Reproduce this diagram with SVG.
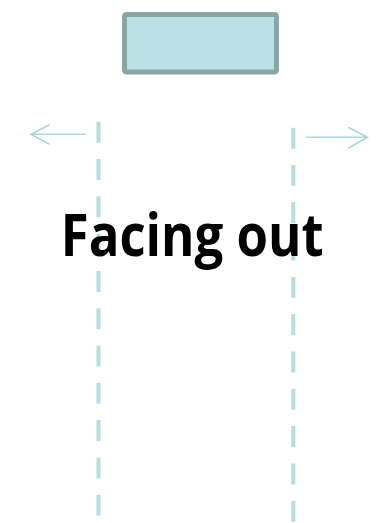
<svg xmlns="http://www.w3.org/2000/svg" width="384" height="523" viewBox="0 0 384 523">
<style>
.dash{stroke:#B6DEE1;stroke-width:4;stroke-dasharray:21 16.3;fill:none}
.arr{stroke:#A9D7DA;stroke-width:1.6;fill:none;stroke-linecap:round}
.lbl{font-family:"Open Sans","Liberation Sans",sans-serif;font-weight:700;font-size:59px;fill:#000}
</style>
<rect width="384" height="523" fill="#fff"/>
<g id="box">
<rect x="124.5" y="14.5" width="152" height="57.5" rx="2" fill="#BBE0E3" stroke="#8AA5A6" stroke-width="5"/>
</g>
<g id="connectors">
<line class="dash" x1="98.5" y1="121.7" x2="98.5" y2="523"/>
<line class="dash" x1="293.3" y1="127.7" x2="293.3" y2="523"/>
<path class="arr" d="M85 134.3H31M49 125L31 134.3L49 144"/>
<path class="arr" d="M306.7 137.3H367.5M349 127.7L367.5 137.3L349 147.7"/>
</g>
<g id="label">
<text class="lbl" x="60.7" y="256" textLength="263" lengthAdjust="spacingAndGlyphs">Facing out</text>
</g>
</svg>
